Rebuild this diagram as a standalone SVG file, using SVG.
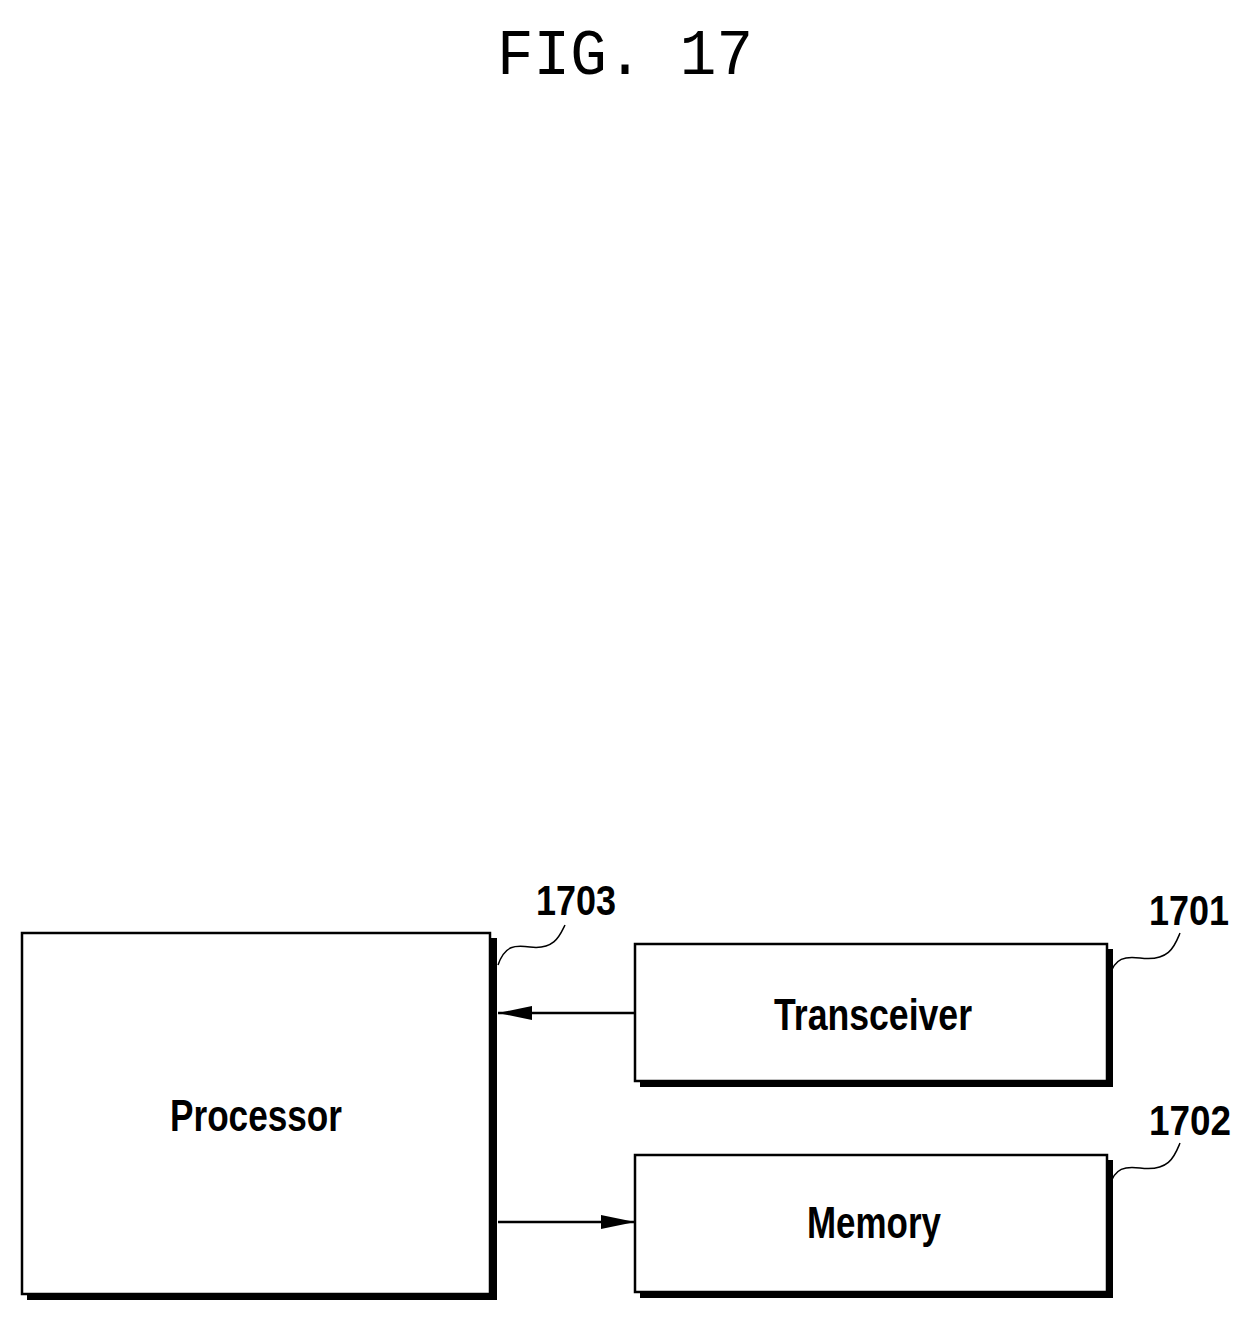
<svg xmlns="http://www.w3.org/2000/svg" width="1250" height="1322" viewBox="0 0 1250 1322">
<style>
.box{fill:#fff;stroke:#000;stroke-width:2.5}
.sh{fill:none;stroke:#000;stroke-width:6}
.lbl{font-family:"Liberation Sans",Arial,sans-serif;font-weight:bold;font-size:44px;text-anchor:middle}
.num{font-family:"Liberation Sans",Arial,sans-serif;font-weight:bold;font-size:42px}
.ld{fill:none;stroke:#000;stroke-width:1.5}
.cn{stroke:#000;stroke-width:2.5;fill:none}
</style>
<defs><marker id="ah2" markerWidth="34" markerHeight="14" refX="34" refY="7" orient="auto" markerUnits="userSpaceOnUse" viewBox="0 0 34 14"><path d="M0,0 L34,7 L0,14 z" fill="#000"/></marker></defs>
<text x="625" y="74" font-family="Liberation Mono,'Courier New',monospace" font-size="64" text-anchor="middle" textLength="256" lengthAdjust="spacingAndGlyphs">FIG. 17</text>
<g id="processor"><rect class="box" x="22" y="933" width="468" height="361"/><path class="sh" d="M494,938 V1297 H27"/><text class="lbl" x="256" y="1131" textLength="172" lengthAdjust="spacingAndGlyphs">Processor</text></g>
<g id="transceiver"><rect class="box" x="635" y="944" width="472" height="137"/><path class="sh" d="M1110,949 V1084 H640"/><text class="lbl" x="873" y="1030" textLength="198" lengthAdjust="spacingAndGlyphs">Transceiver</text></g>
<g id="memory"><rect class="box" x="635" y="1155" width="472" height="137"/><path class="sh" d="M1110,1160 V1295 H640"/><text class="lbl" x="874" y="1238" textLength="134" lengthAdjust="spacingAndGlyphs">Memory</text></g>
<g id="labels">
<text class="num" x="536" y="915" textLength="80" lengthAdjust="spacingAndGlyphs">1703</text>
<path class="ld" d="M498,965 C505,945 515,945 530,947 C555,950 560,935 565,925"/>
<text class="num" x="1149" y="925" textLength="80" lengthAdjust="spacingAndGlyphs">1701</text>
<path class="ld" d="M1110,975 C1115,958 1125,956 1140,958 C1170,962 1175,945 1180,933"/>
<text class="num" x="1149" y="1135" textLength="82" lengthAdjust="spacingAndGlyphs">1702</text>
<path class="ld" d="M1110,1185 C1115,1168 1125,1166 1140,1168 C1170,1172 1175,1155 1180,1143"/>
</g>
<g id="connectors">
<line class="cn" x1="635" y1="1013" x2="498" y2="1013" marker-end="url(#ah2)"/>
<line class="cn" x1="498" y1="1222" x2="635" y2="1222" marker-end="url(#ah2)"/>
</g>
</svg>
